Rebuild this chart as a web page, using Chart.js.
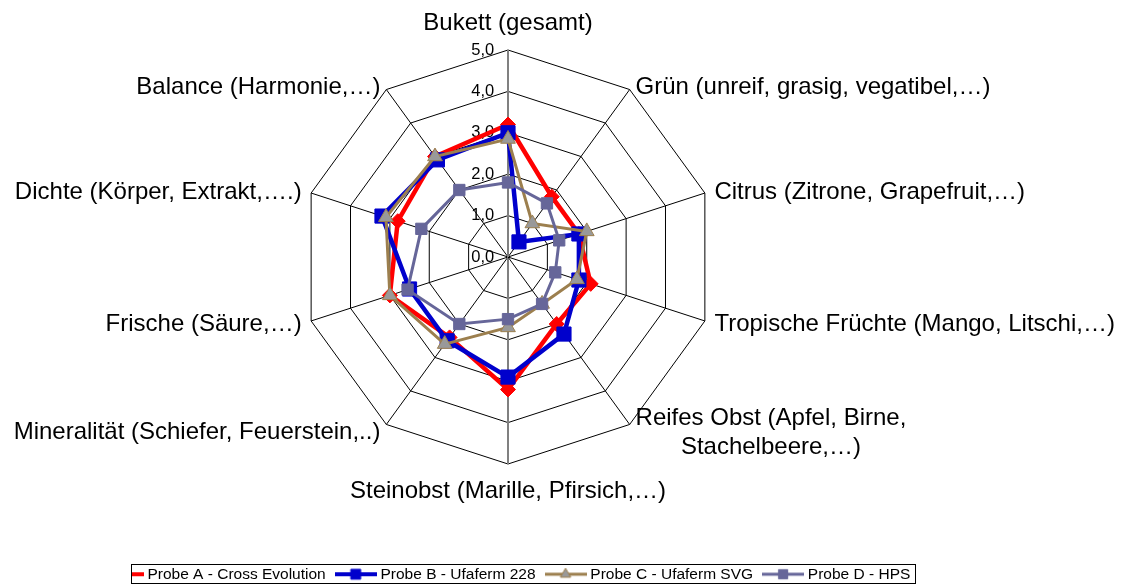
<!DOCTYPE html>
<html>
<head>
<meta charset="utf-8">
<script src="https://cdn.jsdelivr.net/npm/chart.js@4"></script>
<style>
  html, body { margin: 0; padding: 0; background: #fff; }
  #wrap { width: 1127px; height: 585px; }
</style>
</head>
<body>
<div id="wrap"><canvas id="radar" width="1127" height="585"></canvas></div>
<script>
// axis labels, clockwise from the top
const categories = [
  'Bukett (gesamt)',
  'Grün (unreif, grasig, vegatibel,…)',
  'Citrus (Zitrone, Grapefruit,…)',
  'Tropische Früchte (Mango, Litschi,…)',
  ['Reifes Obst (Apfel, Birne,', 'Stachelbeere,…)'],
  'Steinobst (Marille, Pfirsich,…)',
  'Mineralität (Schiefer, Feuerstein,..)',
  'Frische (Säure,…)',
  'Dichte (Körper, Extrakt,….)',
  'Balance (Harmonie,…)'
];

const seriesNames = [
  'Probe A - Cross Evolution',
  'Probe B - Ufaferm 228',
  'Probe C - Ufaferm SVG',
  'Probe D - HPS'
];

const probeA = [3.2, 1.8, 1.8, 2.1, 2.0, 3.2, 2.4, 3.0, 2.8, 3.0];
const probeB = [3.0, 0.45, 1.8, 1.8, 2.3, 2.9, 2.5, 2.5, 3.2, 2.9];
const probeC = [2.85, 1.0, 2.0, 1.75, 1.4, 1.7, 2.6, 3.0, 3.1, 3.0];
const probeD = [1.8, 1.6, 1.3, 1.2, 1.4, 1.5, 2.0, 2.55, 2.2, 2.0];

const tickMax = 5;
const tickStep = 1;

const FONT = '"Liberation Sans", Arial, sans-serif';
Chart.defaults.font.family = FONT;
Chart.defaults.color = '#000';

const RED = '#ff0000';
const BLUE = '#0000cc';
const BROWN = '#9c7f4e';
const GREY = '#999999';
const PURPLE = '#666699';

// small line + marker pictures for the legend
function makeIcon(lineColor, lineW, startX, marker, fill, border, radius) {
  const c = document.createElement('canvas');
  c.width = 42; c.height = 18;
  const g = c.getContext('2d');
  g.strokeStyle = lineColor;
  g.lineWidth = lineW;
  g.beginPath();
  g.moveTo(startX, 9);
  g.lineTo(42, 9);
  g.stroke();
  if (marker) {
    g.fillStyle = fill;
    g.strokeStyle = border;
    g.lineWidth = 1;
    Chart.helpers.drawPoint(g, { pointStyle: marker, radius: radius, borderWidth: 1, rotation: 0 }, 21, 9);
  }
  return c;
}

const icons = [
  makeIcon(RED, 4, 30, null),
  makeIcon(BLUE, 4, 0, 'rect', BLUE, BLUE, 7),
  makeIcon(BROWN, 3, 0, 'triangle', GREY, BROWN, 6),
  makeIcon(PURPLE, 3, 0, 'rect', PURPLE, PURPLE, 6.5)
];

// axis titles drawn round the web, placed from the scale's own point positions
const axisTitles = {
  id: 'axisTitles',
  afterDraw(chart) {
    const scale = chart.scales.r;
    const ctx = chart.ctx;
    const lh = 28.8;
    ctx.save();
    ctx.font = '24px ' + FONT;
    ctx.fillStyle = '#000';
    ctx.textBaseline = 'middle';
    chart.data.labels.forEach((lbl, i) => {
      const lines = Array.isArray(lbl) ? lbl : [lbl];
      const p = scale.getPointPosition(i, scale.drawingArea + 10);
      const ang = scale.getIndexAngle(i);
      const deg = Math.round(ang * 180 / Math.PI) % 360;
      const dirY = -Math.cos(ang);
      const maxW = Math.max(...lines.map((t) => ctx.measureText(t).width));
      let cx, y0;
      if (deg === 0) {
        cx = p.x; y0 = p.y - 17 - (lines.length - 1) * lh;
      } else if (deg === 180) {
        cx = p.x; y0 = p.y + 17;
      } else {
        cx = deg < 180 ? p.x + maxW / 2 : p.x - maxW / 2;
        // upper side labels sit a little closer to their spoke
        const pull = dirY < 0 ? -dirY * 7.5 : 0;
        y0 = p.y + pull - (lines.length - 1) * lh / 2;
      }
      ctx.textAlign = 'center';
      lines.forEach((t, k) => ctx.fillText(t, cx, y0 + k * lh));
    });
    ctx.restore();
  }
};

// thin frame round the legend entries
const legendFrame = {
  id: 'legendFrame',
  afterDraw(chart) {
    const lg = chart.legend;
    const hb = lg && lg.legendHitBoxes;
    if (!hb || !hb.length) return;
    const fs = 15.5;
    const first = hb[0];
    const last = hb[hb.length - 1];
    const left = Math.round(first.left + 34 + fs / 2 - 16) + 0.5;
    const right = Math.round(last.left + last.width + 5) + 0.5;
    const cy = first.top + first.height / 2;
    const top = Math.round(cy - 10) + 0.5;
    const ctx = chart.ctx;
    ctx.save();
    ctx.strokeStyle = '#000';
    ctx.lineWidth = 1;
    ctx.strokeRect(left, top, right - left, 19);
    ctx.restore();
  }
};

function dataset(i, data, color, width, style, radius, fill, order) {
  return {
    label: seriesNames[i],
    data: data,
    borderColor: color,
    borderWidth: width,
    backgroundColor: fill,
    fill: false,
    pointStyle: style,
    pointRadius: radius,
    pointHoverRadius: radius,
    pointBackgroundColor: fill,
    pointBorderColor: color,
    pointBorderWidth: 1,
    order: order
  };
}

new Chart(document.getElementById('radar'), {
  type: 'radar',
  data: {
    labels: categories,
    datasets: [
      dataset(0, probeA, RED, 4.5, 'rectRot', 7.5, RED, 4),
      dataset(1, probeB, BLUE, 4.5, 'rect', 10, BLUE, 3),
      dataset(2, probeC, BROWN, 3, 'triangle', 8.5, GREY, 2),
      dataset(3, probeD, PURPLE, 3, 'rect', 8, PURPLE, 1)
    ]
  },
  options: {
    responsive: false,
    animation: false,
    devicePixelRatio: 1,
    layout: { padding: { left: 0, right: 111, top: 40, bottom: -7 } },
    elements: { line: { tension: 0 } },
    plugins: {
      tooltip: { enabled: false },
      legend: {
        position: 'bottom',
        title: { display: true, text: '', font: { size: 1 }, padding: { top: 77.3, bottom: 0 } },
        labels: {
          usePointStyle: true,
          pointStyleWidth: 34,
          padding: 13,
          font: { size: 15.5 },
          color: '#000',
          generateLabels: (chart) => chart.data.datasets.map((ds, i) => ({
            text: ds.label,
            pointStyle: icons[i],
            datasetIndex: i,
            hidden: false,
            lineWidth: 0,
            fillStyle: 'rgba(0,0,0,0)',
            strokeStyle: 'rgba(0,0,0,0)',
            fontColor: '#000'
          }))
        }
      }
    },
    scales: {
      r: {
        min: -0.001,
        max: tickMax,
        bounds: 'data',
        startAngle: 0,
        grid: { circular: false, color: '#000', lineWidth: 1 },
        angleLines: {
          color: (c) => (c.index === 0 || c.index === 5 ? '#808080' : '#000'),
          lineWidth: (c) => (c.index === 0 || c.index === 5 ? 2 : 1)
        },
        pointLabels: { display: false },
        ticks: {
          stepSize: tickStep,
          includeBounds: false,
          showLabelBackdrop: false,
          color: '#000',
          font: { size: 16.5 },
          callback: (v) => Math.max(0, v).toFixed(1).replace('.', ',') + '           '
        }
      }
    }
  },
  plugins: [axisTitles, legendFrame]
});
</script>
</body>
</html>
